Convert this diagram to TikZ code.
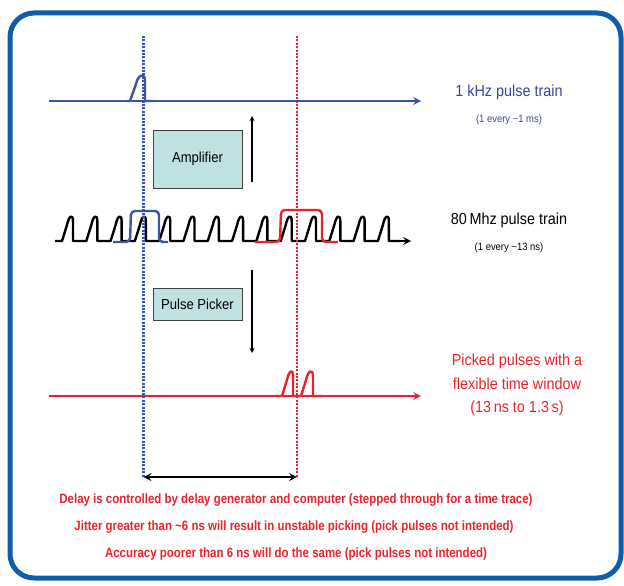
\documentclass[tikz,border=0pt]{standalone}
\usepackage{fontspec}
\setmainfont{Liberation Sans}[FakeStretch=0.9]
\newfontfamily\notefont{Liberation Sans}[FakeStretch=0.85]
\usepackage{tikz}
\usetikzlibrary{arrows.meta, positioning}
\usepackage{xcolor}
\definecolor{frameblue}{RGB}{16,92,172}
\definecolor{lineblue}{RGB}{58,84,166}
\definecolor{textblue}{RGB}{58,66,160}
\definecolor{pickred}{RGB}{236,34,42}
\definecolor{boxfill}{RGB}{190,226,226}
\tikzstyle{device} = [rectangle, draw=black!75, fill=boxfill, minimum width=89pt, line width=1pt, font=\fontsize{14.5}{16}\selectfont]
\tikzstyle{arrow} = [line width=1.3pt,->,>=stealth]
\tikzstyle{axis} = [line width=2.4pt,->,>=stealth]
\tikzstyle{trace} = [line width=2.4pt, line join=round]
\tikzstyle{marker} = [line width=2.8pt, dash pattern=on 2pt off 1.4pt]
\tikzstyle{trainlabel} = [font=\fontsize{16}{19}\selectfont]
\tikzstyle{trainsub} = [font=\fontsize{10.5}{12}\selectfont]
\tikzstyle{note} = [pickred, font=\notefont\bfseries\fontsize{13.5}{15}\selectfont]

\begin{document}
\begin{tikzpicture}[x=1pt, y=-1pt, every node/.style={inner sep=2pt}]
    \useasboundingbox (0,0) rectangle (624,586);
    % Frame
    \draw[line width=5pt, frameblue, rounded corners=24pt] (10,13) rectangle (621,578);

    % 1 kHz train
    \coordinate (kstart) at (49,101);
    \coordinate (kend) at (421,101);
    \draw[axis, lineblue] (kstart) -- (kend);
    \draw[trace, lineblue] (127,101) -- (130,101) -- (136,84) .. controls (138,74) and (145,73) .. (145,80) -- (145,101) -- (153,101);
    \node (ktrain) [trainlabel, textblue] at (509,92) {1 kHz pulse train};
    \node (ksub) [trainsub, textblue, below=11pt of ktrain] {(1 every \textasciitilde1 ms)};

    % Amplifier
    \node (amp) [device, minimum height=58pt] at (197.5,159) {Amplifier};
    \coordinate (amptail) at (252,182);
    \coordinate (amphead) at (252,116);
    \draw[arrow] (amptail) -- (amphead);

    % 80 MHz train
    \draw[trace, black] (55,241) \foreach \f in {73,97.3,...,390} {
        -- ({\f-11},241) -- ({\f-6},225) .. controls ({\f-4},215) and (\f,214) .. (\f,221) -- (\f,241) } -- (400,241);
    \coordinate (mstart) at (398,241);
    \coordinate (mend) at (411,241);
    \draw[axis] (mstart) -- (mend);
    \draw[trace, lineblue, rounded corners=4pt] (113,242) -- (130,242) -- (131,211) -- (159,211) -- (159,242) -- (168,242);
    \draw[trace, pickred, rounded corners=4pt] (255,242) -- (280,242) -- (281,210) -- (322,210) -- (322,242) -- (338,242);
    \node (mtrain) [trainlabel] at (509,220) {80\,Mhz pulse train};
    \node (msub) [trainsub, below=11pt of mtrain] {(1 every \textasciitilde13 ns)};

    % Pulse picker
    \node (picker) [device, minimum height=32pt] at (197.5,304) {Pulse Picker};
    \coordinate (picktail) at (252,270);
    \coordinate (pickhead) at (252,353);
    \draw[arrow] (picktail) -- (pickhead);

    % Picked pulses
    \coordinate (pstart) at (49,396);
    \coordinate (pend) at (421,396);
    \draw[axis, pickred] (pstart) -- (pend);
    \draw[trace, pickred] (275,396) -- (282,396) -- (287,380) .. controls (289,370) and (293,369) .. (293,375) -- (293,396) -- (301,396) -- (306,380) .. controls (308,370) and (313,369) .. (313,375) -- (313,396) -- (322,396);
    \node (picked) [trainlabel, pickred, align=center, font=\fontsize{16}{23.5}\selectfont] at (517,385) {Picked pulses with a\\flexible time window\\(13\,ns to 1.3\,s)};

    % Delay markers
    \coordinate (btop) at (143.5,36);
    \coordinate (bbot) at (143.5,477);
    \coordinate (rtop) at (297,36);
    \coordinate (rbot) at (297,477);
    \draw[marker, lineblue] (btop) -- (bbot);
    \draw[marker, pickred] (rtop) -- (rbot);
    \draw[<->, >=stealth, line width=2.4pt] (bbot) -- (rbot);

    % Notes
    \node (note1) [note] at (296,500) {Delay is controlled by delay generator and computer (stepped through for a time trace)};
    \node (note2) [note] at (294,527) {Jitter greater than \textasciitilde6 ns will result in unstable picking (pick pulses not intended)};
    \node (note3) [note] at (296,554) {Accuracy poorer than 6 ns will do the same (pick pulses not intended)};
\end{tikzpicture}
\end{document}
